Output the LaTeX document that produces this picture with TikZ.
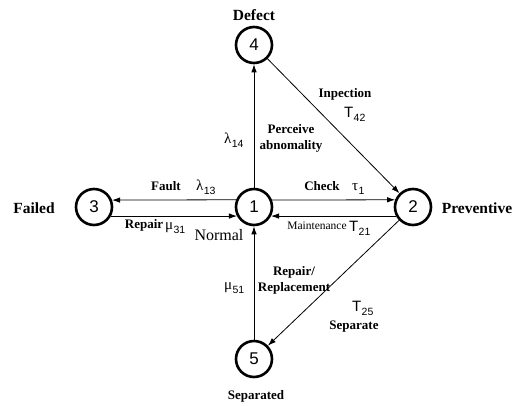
\documentclass[tikz,border=0pt]{standalone}
\usepackage{fontspec}
\setmainfont{Liberation Serif}
\setsansfont{Liberation Sans}
\usetikzlibrary{arrows.meta}
% symbol with a sans-serif subscript
\newcommand\symsub[2]{#1\kern0.3pt\raisebox{-4pt}{\sffamily\fontsize{10.5}{10.5}\selectfont #2}}
\newcommand\sansT{{\sffamily\fontsize{15}{15}\selectfont T}}
\begin{document}
\begin{tikzpicture}[x=1pt,y=-1pt,
  state/.style={circle,draw,line width=2.6pt,minimum size=36pt,inner sep=0pt,
    font=\sffamily\fontsize{17}{17}\selectfont},
  tr/.style={line width=0.8pt,-{Latex[length=8pt,width=5.5pt]}},
  big/.style={font=\bfseries\fontsize{15.5}{17}\selectfont,inner sep=0pt},
  lbl/.style={font=\bfseries\fontsize{13}{16}\selectfont,inner sep=0pt,align=center},
  sym/.style={font=\fontsize{15}{15}\selectfont,inner sep=0pt,anchor=base west}]
\useasboundingbox (0,0) rectangle (520,405);

% states
\node[state] (n1) at (254,207) {1};
\node[state] (n2) at (413,207) {2};
\node[state] (n3) at (94,207) {3};
\node[state] (n4) at (254,45) {4};
\node[state] (n5) at (254,359) {5};

% state names
\node[big] (tdef) at (254,15) {Defect};
\node[big] (tfail) at (34,208) {Failed};
\node[big] (tprev) at (477,208) {Preventive};
\node[font=\fontsize{16}{18}\selectfont,inner sep=0pt] (tnorm) at (219,235) {Normal};
\node[lbl] (tsep) at (256,396) {Separated};

% transitions
\draw[tr] (n1.158.6) -- (n3.21.4);
\draw[tr] (n3.-28) -- (n1.208);
\draw[tr] (n1.21.4) -- (n2.158.6);
\draw[tr] (n2.208) -- (n1.-28);
\draw[tr] (n1) -- (n4);
\draw[tr] (n5) -- (n1);
\draw[tr] (n4) -- (n2);
\draw[tr] (n2) -- (n5);

% transition labels
\node[lbl] (lfault) at (166,186) {Fault};
\node[sym] (l13) at (196,190) {\symsub{λ}{13}};
\node[lbl] (lcheck) at (322,186) {Check};
\node[sym] (t1) at (352,190) {\symsub{τ}{1}};
\node[lbl] (lrep) at (144,225) {Repair};
\node[sym] (m31) at (165,229) {\symsub{μ}{31}};
\node[font=\fontsize{11.5}{13}\selectfont,inner sep=0pt] (lmaint) at (317,226) {Maintenance};
\node[sym] (t21) at (349,231) {\symsub{\sansT}{21}};
\node[sym] (l14) at (224,143) {\symsub{λ}{14}};
\node[lbl] (lperc) at (291,138) {Perceive\\abnomality};
\node[lbl] (linsp) at (345,94) {Inpection};
\node[sym] (t42) at (344,117) {\symsub{\sansT}{42}};
\node[sym] (m51) at (224,289) {\symsub{μ}{51}};
\node[lbl] (lrepl) at (294,280) {Repair/\\Replacement};
\node[sym] (t25) at (352,311) {\symsub{\sansT}{25}};
\node[lbl] (lsepa) at (354,327) {Separate};
\end{tikzpicture}
\end{document}
